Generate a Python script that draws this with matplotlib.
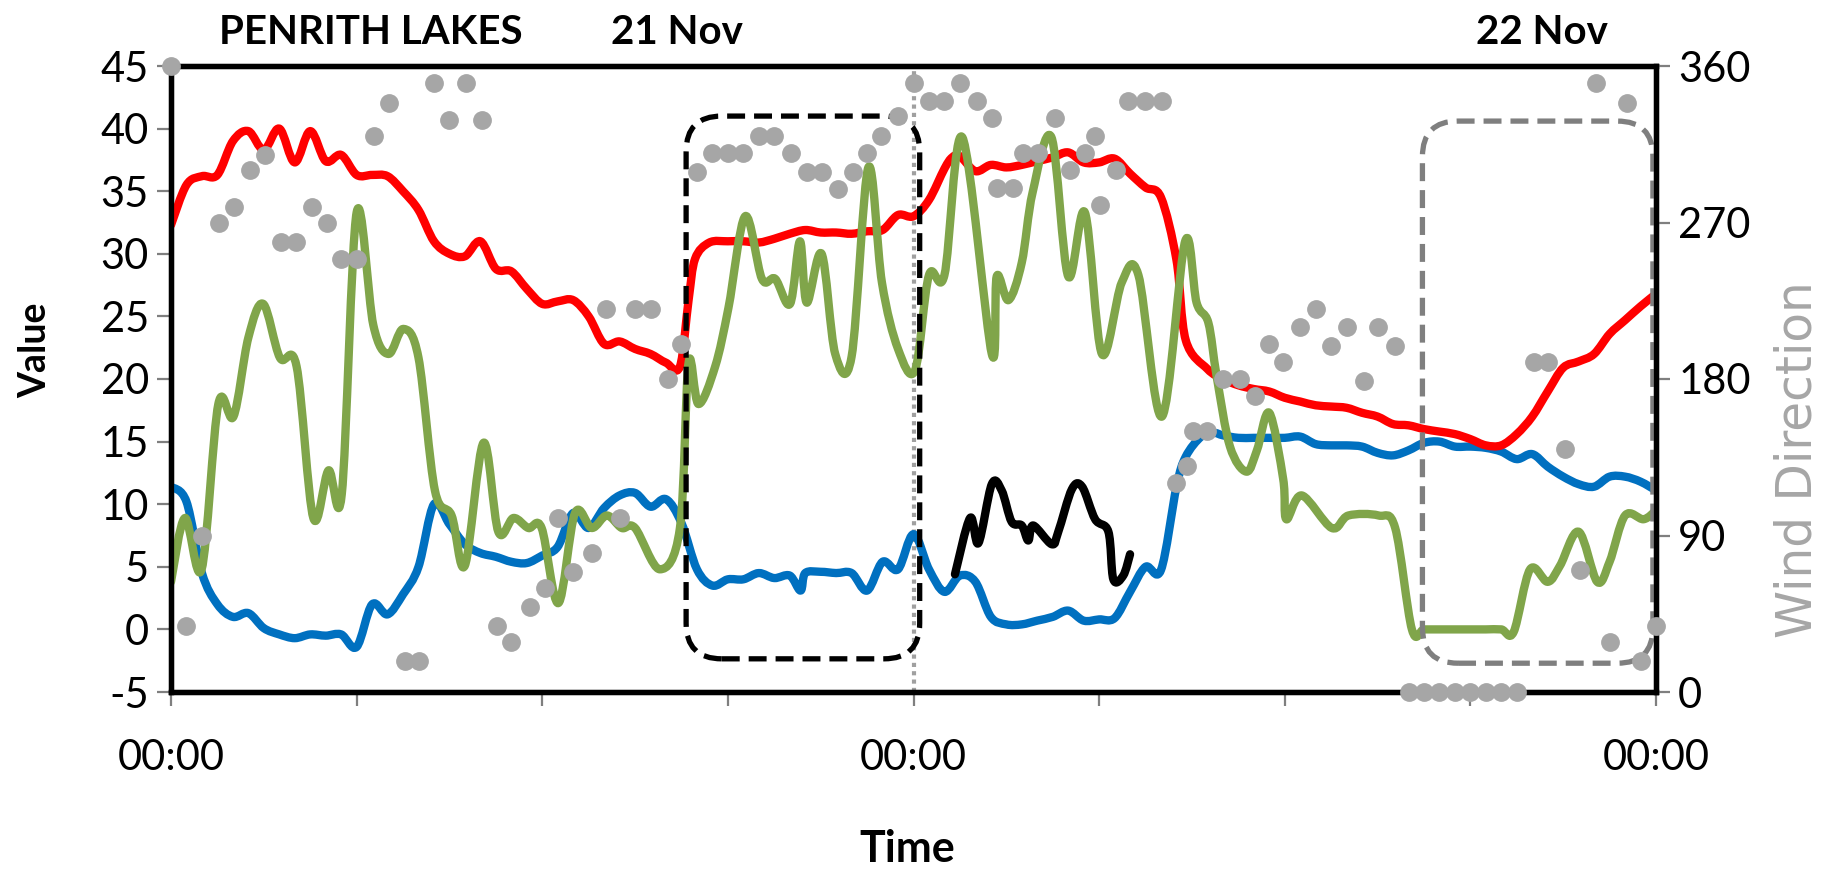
import matplotlib
matplotlib.use("Agg")
import matplotlib.pyplot as plt
from matplotlib.patches import FancyBboxPatch, PathPatch
from matplotlib.path import Path
from matplotlib.ticker import MultipleLocator, FixedLocator

plt.rcParams['font.family'] = ['Lato', 'DejaVu Sans']
plt.rcParams['axes.unicode_minus'] = False

# ---------------- data (hours from 00:00 21 Nov) ----------------
red_t = [0, 0.5, 1, 1.5, 2, 2.5, 3, 3.5, 4, 4.5, 5, 5.5, 6, 6.5, 7, 7.5, 8, 8.5, 9, 9.5,
         10, 10.5, 11, 11.5, 12, 12.5, 13, 13.5, 14, 14.5, 15, 15.5, 16, 16.45, 16.73, 16.94,
         17.4, 18, 18.5, 19, 19.5, 20, 20.5, 21, 21.5, 22, 22.5, 23, 23.5, 24, 24.5, 25, 25.25,
         25.5, 26, 26.5, 27, 27.5, 28, 28.5, 29, 29.5, 30, 30.5, 31, 31.5, 32, 32.5, 32.8,
         33.5, 34, 34.5, 35, 35.5, 36, 36.5, 37, 37.5, 38, 38.5, 39, 39.5, 40, 40.5, 41, 41.5,
         42, 42.5, 43, 43.5, 44, 44.5, 45, 45.5, 46, 46.5, 47, 47.5, 48]
red_v = [32.3, 35.5, 36.2, 36.3, 39.0, 39.8, 38.3, 40.0, 37.3, 39.8, 37.4, 37.9, 36.3, 36.3,
         36.2, 35.0, 33.5, 31.0, 30.0, 29.8, 31.0, 28.8, 28.6, 27.2, 26.0, 26.2, 26.3, 25.0,
         22.8, 23.0, 22.4, 22.0, 21.3, 21.0, 26.3, 29.6, 30.9, 31.0, 31.0, 30.9, 31.2, 31.6,
         31.9, 31.7, 31.7, 31.6, 31.8, 31.9, 33.1, 33.0, 34.3, 36.8, 37.7, 37.8, 36.6, 37.1,
         36.9, 37.1, 37.4, 37.7, 38.1, 37.3, 37.3, 37.6, 36.4, 35.3, 34.5, 29.5, 23.1, 20.8,
         20.0, 19.5, 19.2, 19.0, 18.5, 18.2, 17.9, 17.8, 17.7, 17.3, 17.0, 16.4, 16.3, 16.0,
         15.8, 15.6, 15.2, 14.7, 14.7, 15.6, 17.0, 19.0, 20.9, 21.4, 22.0, 23.6, 24.7, 25.8,
         26.8]

blue_t = [0, 0.5, 1, 1.5, 2, 2.5, 3, 3.5, 4, 4.5, 5, 5.5, 6, 6.5, 7, 7.5, 8, 8.5, 9, 9.5,
          10, 10.5, 11, 11.5, 12, 12.5, 13, 13.5, 14, 14.5, 15, 15.5, 16, 16.5, 17, 17.5, 18,
          18.5, 19, 19.5, 20, 20.35, 20.5, 21, 21.5, 22, 22.5, 23, 23.5, 24, 24.5, 25, 25.5,
          26, 26.5, 27, 27.5, 28, 28.5, 29, 29.5, 30, 30.5, 31, 31.5, 32, 32.5, 32.8, 33.3,
          33.7, 34, 34.5, 35, 35.5, 36, 36.5, 37, 37.5, 38, 38.5, 39, 39.5, 40, 40.5, 41, 41.5,
          42, 42.5, 43, 43.5, 44, 44.5, 45, 45.5, 46, 46.5, 47, 47.5, 48]
blue_v = [11.4, 10.2, 4.5, 2.0, 1.0, 1.3, 0.1, -0.4, -0.7, -0.4, -0.5, -0.4, -1.4, 2.0, 1.2,
          2.8, 5.0, 10.0, 8.4, 6.8, 6.1, 5.8, 5.4, 5.3, 5.9, 6.6, 9.3, 8.1, 9.7, 10.7, 10.9,
          9.8, 10.4, 8.5, 4.8, 3.5, 4.0, 4.0, 4.5, 4.1, 4.3, 3.1, 4.5, 4.6, 4.5, 4.5, 3.1, 5.4,
          4.8, 7.6, 4.8, 3.0, 4.3, 3.8, 1.0, 0.4, 0.4, 0.7, 1.0, 1.5, 0.7, 0.8, 0.9, 3.0, 5.0,
          4.75, 11.4, 13.8, 15.4, 15.7, 15.5, 15.3, 15.3, 15.3, 15.3, 15.4, 14.8, 14.7, 14.7,
          14.6, 14.1, 13.9, 14.3, 14.9, 15.0, 14.6, 14.6, 14.5, 14.2, 13.6, 14.0, 13.0, 12.2,
          11.6, 11.4, 12.2, 12.2, 11.8, 11.1]

green_t = [0, 0.45, 0.99, 1.53, 2.02, 2.5, 2.98, 3.52, 4.06, 4.6, 5.09, 5.52, 6.0, 6.54, 7.03,
           7.51, 8.0, 8.53, 9.07, 9.5, 10.1, 10.58, 11.07, 11.55, 11.98, 12.52, 13.06, 13.6,
           14.09, 14.57, 15.0, 15.8, 16.45, 16.73, 17.05, 17.59, 18.02, 18.56, 19.1, 19.53,
           20.01, 20.33, 20.55, 21.03, 21.47, 22.0, 22.54, 22.98, 23.5, 24.05, 24.5, 25.0,
           25.58, 26.53, 26.69, 27.07, 27.5, 27.85, 28.46, 29.0, 29.54, 30.09, 30.73, 31.27,
           32.03, 32.78, 33.15, 33.53, 33.8, 34.23, 34.76, 35.1, 35.5, 35.95, 36.05, 36.55,
           37.52, 38.06, 39.03, 39.57, 40.11, 40.5, 41.0, 41.5, 42.0, 42.5, 43.0, 43.4, 43.93,
           44.5, 44.9, 45.5, 46.1, 46.5, 47.0, 47.6, 48.0]
green_v = [3.8, 8.9, 4.8, 18.0, 17.0, 23.3, 26.0, 21.7, 21.0, 8.9, 12.7, 10.8, 33.3, 24.3,
           22.0, 24.0, 21.7, 11.1, 9.1, 5.1, 14.9, 7.8, 8.9, 8.1, 8.1, 2.1, 9.3, 8.1, 9.1, 8.1,
           8.1, 4.8, 8.1, 21.3, 18.0, 21.0, 25.7, 33.0, 28.0, 28.0, 26.0, 31.0, 26.1, 30.0,
           22.0, 21.8, 36.9, 27.7, 22.4, 20.7, 28.3, 28.3, 39.3, 22.0, 28.2, 26.3, 29.3, 34.9,
           39.3, 28.2, 33.3, 22.0, 27.7, 28.3, 17.0, 31.0, 26.1, 24.5, 20.2, 14.6, 12.6, 14.3,
           17.3, 12.0, 8.8, 10.7, 8.1, 9.1, 9.1, 8.1, 0.0, 0.0, 0.0, 0.0, 0.0, 0.0, 0.0, -0.2,
           4.8, 3.8, 5.1, 7.8, 3.8, 5.4, 9.1, 8.8, 9.5]

black_t = [25.34, 25.83, 26.1, 26.53, 26.85, 27.17, 27.5, 27.71, 27.87, 28.47, 28.68, 29.12,
           29.45, 29.87, 30.3, 30.46, 30.78, 31.0]
black_v = [4.4, 8.9, 6.9, 11.6, 11.1, 8.6, 8.3, 7.1, 8.3, 6.8, 7.8, 11.2, 11.4, 8.8, 7.8, 4.0,
           4.3, 6.0]

wind_t = [0, 0.5, 1.0, 1.55, 2.05, 2.55, 3.05, 3.55, 4.05, 4.55, 5.05, 5.5, 6.0, 6.55, 7.05,
          7.55, 8.0, 8.5, 9.0, 9.55, 10.05, 10.55, 11.0, 11.6, 12.1, 12.5, 13.0, 13.6, 14.05,
          14.5, 15.0, 15.5, 16.05, 16.5, 17.0, 17.5, 18.0, 18.5, 19.0, 19.5, 20.05, 20.55,
          21.05, 21.55, 22.05, 22.5, 22.95, 23.5, 24.0, 24.5, 25.0, 25.5, 26.05, 26.55, 26.7,
          27.2, 27.55, 28.03, 28.57, 29.06, 29.54, 29.86, 30.03, 30.56, 30.94, 31.48, 32.02,
          32.5, 32.83, 33.04, 33.5, 34.0, 34.55, 35.04, 35.5, 35.95, 36.5, 37.0, 37.5, 38.0,
          38.55, 39.0, 39.55, 40.0, 40.5, 41.0, 41.5, 42.0, 42.5, 43.0, 43.5, 44.05, 44.5,
          45.05, 45.55, 46.05, 46.5, 47.05, 47.5, 48.0]
wind_d = [360, 38, 90, 270, 279, 300, 309, 259, 259, 279, 270, 249, 249, 320, 339, 18, 18,
          350, 329, 350, 329, 38, 29, 49, 60, 100, 69, 80, 220, 100, 220, 220, 180, 200, 299,
          310, 310, 310, 320, 320, 310, 299, 299, 289, 299, 310, 320, 331, 350, 340, 340, 350,
          340, 330, 290, 290, 310, 310, 330, 300, 310, 320, 280, 300, 340, 340, 340, 120, 130,
          150, 150, 180, 180, 170, 200, 190, 210, 220, 199, 210, 179, 210, 199, 0, 0, 0, 0, 0,
          0, 0, 0, 190, 190, 140, 70, 350, 29, 339, 18, 38]

x_tick_labels = ["00:00", "00:00", "00:00"]
x_major = [0, 24, 48]
left_ticks = list(range(-5, 50, 5))
right_ticks = [0, 90, 180, 270, 360]

# highlight boxes: (t_left, t_right, v_bottom, v_top)
box_black = (16.65, 24.2, -2.35, 41.0)
box_gray = (40.45, 47.9, -2.7, 40.6)
midnight = 24

# ---------------- figure ----------------
W, H = 1829, 869
fig = plt.figure(figsize=(W / 100, H / 100), dpi=100)
L, R, T, B = 171, 1656, 66, 692
ax = fig.add_axes([L / W, 1 - B / H, (R - L) / W, (B - T) / H])
ax2 = ax.twinx()

ax.set_xlim(0, 48)
ax.set_ylim(-5, 45)
ax2.set_ylim(0, 360)


def smooth_line(axis, xs, ys, color, lw, z):
    """Draw an Excel-style smoothed line (Catmull-Rom through the points)."""
    n = len(xs)
    pts = list(zip(xs, ys))
    verts = [pts[0]]
    codes = [Path.MOVETO]
    for i in range(n - 1):
        p0 = pts[i - 1] if i > 0 else pts[i]
        p1 = pts[i]
        p2 = pts[i + 1]
        p3 = pts[i + 2] if i + 2 < n else pts[i + 1]
        c1 = (p1[0] + (p2[0] - p0[0]) / 6.0, p1[1] + (p2[1] - p0[1]) / 6.0)
        c2 = (p2[0] - (p3[0] - p1[0]) / 6.0, p2[1] - (p3[1] - p1[1]) / 6.0)
        verts += [c1, c2, p2]
        codes += [Path.CURVE4] * 3
    patch = PathPatch(Path(verts, codes), fill=False, edgecolor=color, lw=lw,
                      capstyle='round', joinstyle='round', zorder=z)
    axis.add_patch(patch)


lw = 6.0
smooth_line(ax, blue_t, blue_v, '#0070C0', lw, 3)
smooth_line(ax, red_t, red_v, '#FF0000', lw, 4)
smooth_line(ax, green_t, green_v, '#80A54A', lw, 5)
smooth_line(ax, black_t, black_v, '#000000', lw, 6)

ax2.plot(wind_t, wind_d, linestyle='none', marker='o', markersize=12.5,
         color='#A6A6A6', clip_on=False, zorder=7)

# dotted midnight line
ax.axvline(midnight, color='#A0A0A0', lw=3, linestyle=(0, (1, 1)), zorder=2)

# rounded dashed boxes (axes coordinates)
aw, ah = (R - L), (B - T)


def add_box(b, color):
    x0 = b[0] / 48.0
    x1 = b[1] / 48.0
    y0 = (b[2] + 5) / 50.0
    y1 = (b[3] + 5) / 50.0
    p = FancyBboxPatch((x0, y0), x1 - x0, y1 - y0,
                       boxstyle="round,pad=0,rounding_size=0.024",
                       mutation_aspect=aw / ah, transform=ax.transAxes,
                       fill=False, edgecolor=color, lw=3.8,
                       linestyle=(0, (3.4, 1.7)), zorder=8, clip_on=False)
    ax.add_patch(p)


add_box(box_black, '#000000')
add_box(box_gray, '#7F7F7F')

# ticks
ax.xaxis.set_major_locator(FixedLocator(x_major))
ax.set_xticklabels(x_tick_labels)
ax.xaxis.set_minor_locator(MultipleLocator(6))
ax.set_yticks(left_ticks)
ax2.set_yticks(right_ticks)

tick_kw = dict(direction='out', length=10, width=1.6, color='#7F7F7F', labelcolor='black',
               labelsize=30)
ax.tick_params(axis='x', which='both', pad=24, **tick_kw)
ax.tick_params(axis='y', which='major', pad=6, **tick_kw)
ax2.tick_params(axis='y', which='major', pad=6, **tick_kw)

for a in (ax, ax2):
    for s in a.spines.values():
        s.set_linewidth(3.8)
        s.set_color('black')

# labels
fig.text(907 / W, 1 - 849 / H, "Time", ha='center', va='center', fontsize=31,
         fontweight='bold')
fig.text(35 / W, 1 - 350 / H, "Value", ha='center', va='center', rotation=90,
         fontsize=27, fontweight='bold')
fig.text(1797 / W, 1 - 460 / H, "Wind Direction", ha='center', va='center', rotation=90,
         fontsize=35, color='#A6A6A6', family=['DejaVu Sans'])
fig.text(371 / W, 1 - 33 / H, "PENRITH LAKES", ha='center', va='center', fontsize=29,
         fontweight='bold')
fig.text(677 / W, 1 - 33 / H, "21 Nov", ha='center', va='center', fontsize=29,
         fontweight='bold')
fig.text(1542 / W, 1 - 33 / H, "22 Nov", ha='center', va='center', fontsize=29,
         fontweight='bold')

fig.savefig("out.png", dpi=100, facecolor='white')
